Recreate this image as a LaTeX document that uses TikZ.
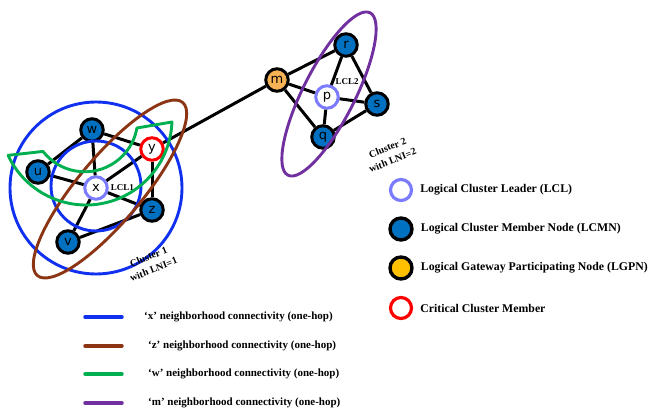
\documentclass[tikz,border=0pt]{standalone}
\usepackage{fontspec}
\setmainfont{Liberation Serif}
\newfontfamily\nodefont{DejaVu Sans}
\usetikzlibrary{positioning,shadows}

\definecolor{lcmnblue}{HTML}{0070C0}
\definecolor{lclblue}{HTML}{7B7BFF}
\definecolor{lgpnorange}{HTML}{FFC000}
\definecolor{gateorange}{HTML}{F6B255}
\definecolor{ringblue}{HTML}{1030F0}
\definecolor{ringbrown}{HTML}{8B3515}
\definecolor{ringgreen}{HTML}{00B050}
\definecolor{ringpurple}{HTML}{7030A0}

\begin{document}
\begin{tikzpicture}[
    x=1pt, y=-1pt,
    member/.style={circle, draw=black, line width=3pt, fill=lcmnblue,
        minimum size=22.5pt, inner sep=0pt,
        font=\nodefont\fontsize{13}{13}\selectfont},
    leader/.style={member, draw=lclblue, fill=white},
    critical/.style={member, draw=red, fill=white},
    gateway/.style={member, fill=gateorange},
    link/.style={line width=3pt},
    ring/.style={line width=2.9pt},
    swatch/.style={line width=3.5pt, line cap=round},
    smalllbl/.style={font=\bfseries\fontsize{9}{10}\selectfont, inner sep=1pt},
    clusterlbl/.style={font=\bfseries\fontsize{10}{13.5}\selectfont, align=center, inner sep=0pt},
    legtext/.style={font=\bfseries\fontsize{11}{13}\selectfont, inner sep=1pt, anchor=west},
    bigleg/.style={legtext, font=\bfseries\fontsize{11.8}{13}\selectfont}
]
    \useasboundingbox (0,0) rectangle (653,411);

    % cluster 1
    \node[member] (w) at (92,130) {w};
    \node[member] (u) at (38,172) {u};
    \node[leader] (x) at (96,188) {x};
    \node[critical] (y) at (152,149) {y};
    \node[member] (z) at (152,210) {z};
    \node[member] (v) at (68,242) {v};
    \node[smalllbl, right=1pt of x] (lcl1) {LCL1};

    % cluster 2
    \node[gateway] (m) at (277,80) {m};
    \node[member] (r) at (346,45) {r};
    \node[leader] (p) at (327,97) {p};
    \node[member] (s) at (377,104) {s};
    \node[member] (q) at (323,137) {q};
    \node[smalllbl] (lcl2) at (347,82) {LCL2};

    % links
    \draw[link] (w) -- (u);
    \draw[link] (w) -- (y);
    \draw[link] (w) -- (x);
    \draw[link] (u) -- (x);
    \draw[link] (x) -- (y);
    \draw[link] (y) -- (z);
    \draw[link] (x) -- (z);
    \draw[link] (x) -- (v);
    \draw[link] (v) -- (z);
    \draw[link] (y) -- (m);
    \draw[link] (m) -- (r);
    \draw[link] (m) -- (p);
    \draw[link] (m) -- (q);
    \draw[link] (r) -- (p);
    \draw[link] (r) -- (s);
    \draw[link] (p) -- (s);
    \draw[link] (p) -- (q);
    \draw[link] (q) -- (s);

    % neighborhoods
    \draw[ring, ringblue] (x) circle [radius=86];
    \draw[ring, ringblue] (96,186) circle [radius=45];
    \draw[ring, ringbrown, rotate around={50:(110,189)}] (110,189) ellipse [x radius=113, y radius=32];
    \draw[ring, ringgreen, line join=round] (86,119) ++(155:86) arc [start angle=155, end angle=2, radius=86]
        -- ++(-35,6) arc [start angle=10, end angle=142, radius=53] -- cycle;
    \draw[ring, ringpurple, rotate around={63.2:(329,94)}] (329,94) ellipse [x radius=91, y radius=26];

    \node[clusterlbl, rotate=22] (c1lbl) at (151,263) {Cluster 1\\with LNI=1};
    \node[clusterlbl, rotate=22] (c2lbl) at (390,154) {Cluster 2\\with LNI=2};

    % node legend
    \node[leader, minimum size=21pt, line width=3.2pt] (legLCL) at (401,190) {};
    \node[member, minimum size=22pt, line width=3.4pt, fill=lcmnblue,
        drop shadow={shadow xshift=0pt, shadow yshift=-1.5pt, opacity=0.35}] (legLCMN) at (401,229) {};
    \node[member, minimum size=22pt, line width=3.4pt, fill=lgpnorange,
        drop shadow={shadow xshift=0pt, shadow yshift=-1.5pt, opacity=0.35}] (legLGPN) at (401,268) {};
    \node[critical, minimum size=21pt, line width=3.2pt] (legCrit) at (401,308) {};
    \node[bigleg, right=6pt of legLCL] (tLCL) {Logical Cluster Leader (LCL)};
    \node[bigleg, right=6pt of legLCMN] (tLCMN) {Logical Cluster Member Node (LCMN)};
    \node[bigleg, right=6pt of legLGPN] (tLGPN) {Logical Gateway Participating Node (LGPN)};
    \node[bigleg, right=6pt of legCrit] (tCrit) {Critical Cluster Member};

    % ring legend
    \node[legtext] (xtxt) at (143,317) {‘x’ neighborhood connectivity (one-hop)};
    \node[legtext] (ztxt) at (147,346) {‘z’ neighborhood connectivity (one-hop)};
    \node[legtext] (wtxt) at (147,374) {‘w’ neighborhood connectivity (one-hop)};
    \node[legtext] (mtxt) at (147,403) {‘m’ neighborhood connectivity (one-hop)};
    \draw[swatch, ringblue] ([xshift=-58pt]xtxt.west) -- ([xshift=-21pt]xtxt.west);
    \draw[swatch, ringbrown] ([xshift=-62pt]ztxt.west) -- ([xshift=-25pt]ztxt.west);
    \draw[swatch, ringgreen] ([xshift=-62pt]wtxt.west) -- ([xshift=-25pt]wtxt.west);
    \draw[swatch, ringpurple] ([xshift=-62pt]mtxt.west) -- ([xshift=-25pt]mtxt.west);
\end{tikzpicture}
\end{document}
